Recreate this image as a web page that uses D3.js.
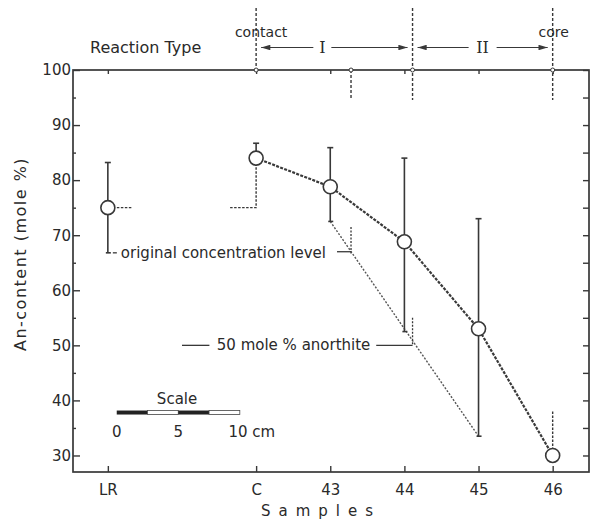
<!DOCTYPE html>
<html>
<head>
<meta charset="utf-8">
<script src="https://cdn.jsdelivr.net/npm/d3@7"></script>
<style>
  body { margin: 0; background: #fff; }
  svg text { font-family: "DejaVu Sans", sans-serif; fill: #2a2a2a; }
</style>
</head>
<body>
<svg width="600" height="529"></svg>
<script>
// samples along the profile (LR = reference rock, a gap before C)
var samples = ["LR", "C", "43", "44", "45", "46"];
var sampleIdx = [0, 2, 3, 4, 5, 6];
var anMean = [75, 84, 78.8, 68.8, 53, 30];
var errHigh = [83.2, 86.7, 85.9, 84, 73, null];
var errLow = [66.8, null, 72.5, 52.5, 33.5, null];
var yTicks = [30, 40, 50, 60, 70, 80, 90, 100];
var yMinor = [35, 45, 55, 65, 75, 85, 95];
var boundaries = [2, 3.28, 4.11, 6];   // contact | ... | I/II | core
var originalLevel = 75;
var levelCross = 3.28, levelMark = [71.5, 67];
var anorthiteCross = 4.11, anorthiteMark = [55, 50];
var coreDashTop = 38;
var scaleTicks = [0, 5, 10];

var svg = d3.select("svg");
var x = d3.scaleLinear().domain([-0.47, 6.49]).range([73, 589]);
var y = d3.scaleLinear().domain([27, 100]).range([472, 70]);
var ink = "#383838";

var g = svg.append("g");

function styleAxis(s, fs) {
  s.select(".domain").remove();
  s.selectAll("line").attr("stroke", ink).attr("stroke-width", 1.4);
  s.selectAll("text").attr("font-size", fs).attr("fill", "#2a2a2a").style("font-family", "DejaVu Sans");
}

// axes (ticks inward)
g.append("g").attr("transform", "translate(73,0)")
  .call(d3.axisLeft(y).tickValues(yTicks).tickSize(-7).tickPadding(2))
  .call(styleAxis, "15px");
g.append("g").attr("transform", "translate(73,0)")
  .call(d3.axisLeft(y).tickValues(yMinor).tickSize(-3).tickFormat(""))
  .call(styleAxis, "15px");
g.append("g").attr("transform", "translate(589,0)")
  .call(d3.axisRight(y).tickValues(yTicks.concat(yMinor)).tickSize(-6).tickFormat(""))
  .call(styleAxis, "15px");
g.append("g").attr("transform", "translate(0,472)")
  .call(d3.axisBottom(x).tickValues(sampleIdx).tickSize(-6).tickPadding(12)
    .tickFormat(function(d){ return samples[sampleIdx.indexOf(d)]; }))
  .call(styleAxis, "15px");
g.append("g").attr("transform", "translate(0,70)")
  .call(d3.axisTop(x).tickValues(sampleIdx).tickSize(-4).tickFormat(""))
  .call(styleAxis, "15px");

g.append("rect").attr("x", 73).attr("y", 70).attr("width", 516).attr("height", 402)
  .attr("fill", "none").attr("stroke", ink).attr("stroke-width", 1.7);

// axis titles
svg.append("text").attr("transform", "translate(26,254) rotate(-90)")
  .attr("text-anchor", "middle").attr("font-size", "16px").attr("letter-spacing", "1.5px")
  .text("An-content (mole %)");
svg.append("text").attr("x", 321).attr("y", 516).attr("text-anchor", "middle")
  .attr("font-size", "15px").attr("letter-spacing", "8px").text("Samples");

// reaction type header
svg.append("text").attr("x", 90).attr("y", 53).attr("font-size", "16px").text("Reaction Type");
svg.append("text").attr("x", x(boundaries[0]) + 5).attr("y", 37).attr("text-anchor", "middle")
  .attr("font-size", "14px").text("contact");
svg.append("text").attr("x", x(boundaries[3]) + 1).attr("y", 37).attr("text-anchor", "middle")
  .attr("font-size", "14px").text("core");

var defs = svg.append("defs");
defs.append("marker").attr("id", "ah").attr("viewBox", "0 0 10 6").attr("refX", 10).attr("refY", 3)
  .attr("markerWidth", 9).attr("markerHeight", 5).attr("orient", "auto")
  .append("path").attr("d", "M0,0L10,3L0,6Z").attr("fill", ink);

// boundary dashed lines
var bTop = [8, 70, 8, 8], bBot = [70, 100, 100, 100];
boundaries.forEach(function(b, i){
  g.append("line").attr("x1", x(b)).attr("x2", x(b)).attr("y1", bTop[i]).attr("y2", bBot[i])
    .attr("stroke", ink).attr("stroke-width", 1.4).attr("stroke-dasharray", "3,2");
});
// zone arrows
function zone(a, b, label) {
  var xm = (x(a) + x(b)) / 2 + (label == "I" ? -12 : 0);
  svg.append("text").attr("x", xm).attr("y", 53).attr("text-anchor", "middle")
    .attr("font-size", "16px").style("font-family", "DejaVu Serif").text(label);
  var w = label == "I" ? 9 : 14;
  g.append("line").attr("x1", xm - w).attr("x2", x(a) + 5).attr("y1", 47.5).attr("y2", 47.5)
    .attr("stroke", ink).attr("stroke-width", 1.1).attr("marker-end", "url(#ah)");
  g.append("line").attr("x1", xm + w).attr("x2", x(b) - 5).attr("y1", 47.5).attr("y2", 47.5)
    .attr("stroke", ink).attr("stroke-width", 1.1).attr("marker-end", "url(#ah)");
}
zone(boundaries[0], boundaries[2], "I");
zone(boundaries[2], boundaries[3], "II");
boundaries.forEach(function(b){
  g.append("circle").attr("cx", x(b)).attr("cy", 70).attr("r", 2)
    .attr("fill", "#fff").attr("stroke", ink).attr("stroke-width", 1);
});

// lower trend (dotted) from 43 to 45 lower error ends
var lo43 = samples.indexOf("43"), lo45 = samples.indexOf("45");
g.append("line").attr("x1", x(sampleIdx[lo43])).attr("y1", y(errLow[lo43]))
  .attr("x2", x(sampleIdx[lo45])).attr("y2", y(errLow[lo45]))
  .attr("stroke", "#555").attr("stroke-width", 1.4).attr("stroke-dasharray", "2,1.6");

// original level marks
var iC = samples.indexOf("C");
g.append("line").attr("x1", x(sampleIdx[0]) + 9).attr("x2", x(sampleIdx[0]) + 25)
  .attr("y1", y(originalLevel)).attr("y2", y(originalLevel))
  .attr("stroke", ink).attr("stroke-width", 1.3).attr("stroke-dasharray", "2.5,1.5");
g.append("path").attr("d", d3.line()([[x(sampleIdx[iC]) - 26, y(originalLevel)], [x(sampleIdx[iC]), y(originalLevel)], [x(sampleIdx[iC]), y(anMean[iC]) + 7]]))
  .attr("fill", "none").attr("stroke", ink).attr("stroke-width", 1.4).attr("stroke-dasharray", "2.5,1.5");
var i46 = samples.indexOf("46");
g.append("line").attr("x1", x(sampleIdx[i46])).attr("x2", x(sampleIdx[i46]))
  .attr("y1", y(coreDashTop)).attr("y2", y(anMean[i46]) - 7)
  .attr("stroke", ink).attr("stroke-width", 1.4).attr("stroke-dasharray", "2.5,1.5");

// error bars
samples.forEach(function(s, i){
  var cx = x(sampleIdx[i]);
  if (errHigh[i] != null) {
    g.append("line").attr("x1", cx).attr("x2", cx).attr("y1", y(errHigh[i])).attr("y2", y(anMean[i]))
      .attr("stroke", ink).attr("stroke-width", 1.6);
    g.append("line").attr("x1", cx - 3).attr("x2", cx + 3).attr("y1", y(errHigh[i])).attr("y2", y(errHigh[i]))
      .attr("stroke", ink).attr("stroke-width", 1.6);
  }
  if (errLow[i] != null) {
    g.append("line").attr("x1", cx).attr("x2", cx).attr("y1", y(anMean[i])).attr("y2", y(errLow[i]))
      .attr("stroke", ink).attr("stroke-width", 1.6);
    g.append("line").attr("x1", cx - 2).attr("x2", cx + 3).attr("y1", y(errLow[i])).attr("y2", y(errLow[i]))
      .attr("stroke", ink).attr("stroke-width", 1.6);
  }
});

// main profile line C..46
var prof = samples.map(function(s, i){ return [x(sampleIdx[i]), y(anMean[i])]; }).slice(1);
g.append("path").attr("d", d3.line()(prof)).attr("fill", "none")
  .attr("stroke", "#3a3a3a").attr("stroke-width", 2.2).attr("stroke-dasharray", "3,1.3");

g.selectAll(".pt").data(anMean).enter().append("circle").attr("class", "pt")
  .attr("cx", function(d, i){ return x(sampleIdx[i]); }).attr("cy", function(d){ return y(d); })
  .attr("r", 7).attr("fill", "#fff").attr("stroke", ink).attr("stroke-width", 1.6);

// annotation: original concentration level
var lrX = x(sampleIdx[0]);
g.append("line").attr("x1", lrX + 5).attr("x2", lrX + 9).attr("y1", y(errLow[0])).attr("y2", y(errLow[0]))
  .attr("stroke", ink).attr("stroke-width", 1.3);
svg.append("text").attr("x", lrX + 13).attr("y", y(errLow[0]) + 5).attr("font-size", "15px")
  .text("original concentration level");
g.append("line").attr("x1", x(levelCross) - 14).attr("x2", x(levelCross)).attr("y1", y(levelMark[1])).attr("y2", y(levelMark[1]))
  .attr("stroke", ink).attr("stroke-width", 1.3);
g.append("line").attr("x1", x(levelCross)).attr("x2", x(levelCross)).attr("y1", y(levelMark[0])).attr("y2", y(levelMark[1]) + 3)
  .attr("stroke", ink).attr("stroke-width", 1.3).attr("stroke-dasharray", "2,1.5");

// annotation: 50 mole % anorthite
g.append("line").attr("x1", x(1.0)).attr("x2", x(1.37)).attr("y1", y(50)).attr("y2", y(50))
  .attr("stroke", ink).attr("stroke-width", 1.3);
svg.append("text").attr("x", x(1.47)).attr("y", y(50) + 5).attr("font-size", "15px")
  .text("50 mole % anorthite");
g.append("line").attr("x1", x(3.62)).attr("x2", x(anorthiteCross)).attr("y1", y(anorthiteMark[1])).attr("y2", y(anorthiteMark[1]))
  .attr("stroke", ink).attr("stroke-width", 1.3);
g.append("line").attr("x1", x(anorthiteCross)).attr("x2", x(anorthiteCross)).attr("y1", y(anorthiteMark[0])).attr("y2", y(anorthiteMark[1]))
  .attr("stroke", ink).attr("stroke-width", 1.3).attr("stroke-dasharray", "2,1.5");

// scale bar
var sc = d3.scaleLinear().domain([0, 10]).range([x(0.12), x(1.78)]);
var barY = y(37.8);
svg.append("text").attr("x", sc(4.9)).attr("y", barY - 9).attr("text-anchor", "middle")
  .attr("font-size", "15px").text("Scale");
[0, 2.5, 5, 7.5].forEach(function(v, i){
  g.append("rect").attr("x", sc(v)).attr("y", barY - 2).attr("width", sc(v + 2.5) - sc(v)).attr("height", 4)
    .attr("fill", i % 2 == 0 ? "#222" : "#fff").attr("stroke", "#444").attr("stroke-width", i % 2 == 0 ? 0 : 0.8);
});
svg.selectAll(".sct").data(scaleTicks).enter().append("text").attr("class", "sct")
  .attr("x", function(d){ return sc(d); }).attr("y", barY + 24).attr("text-anchor", "middle")
  .attr("font-size", "15px").text(function(d){ return d == 10 ? "10 cm" : d; })
  .attr("dx", function(d){ return d == 10 ? 12 : 0; });
</script>
</body>
</html>
